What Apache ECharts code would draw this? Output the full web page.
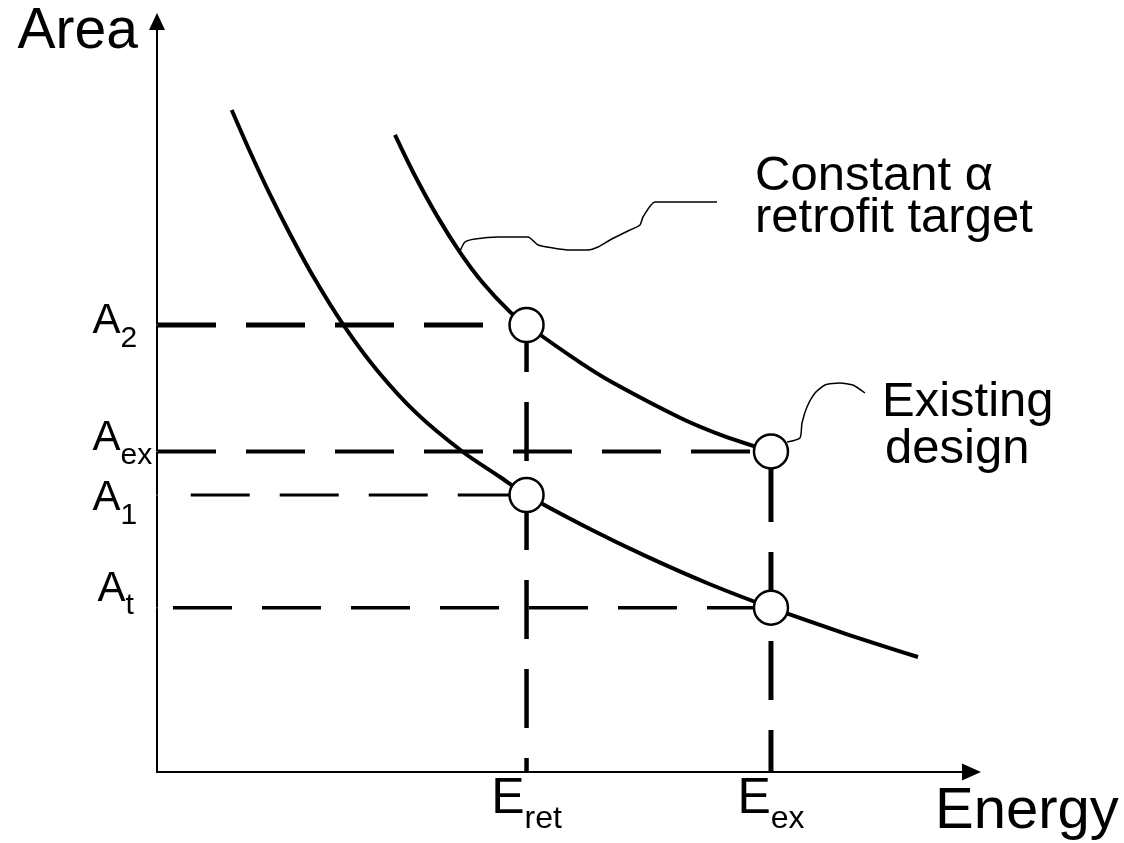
<!DOCTYPE html>
<html><head><meta charset="utf-8">
<script src="https://cdn.jsdelivr.net/npm/echarts@6/dist/echarts.min.js"></script>
<style>html,body{margin:0;padding:0;background:#fff}#main{width:1124px;height:843px}</style>
</head><body><div id="main"></div>
<script>
// ---- data (arbitrary units) ----
const existingCurve = [[9.17,88.21],[11.42,82.65],[13.87,76.96],[16.33,71.69],[19.15,66.09],[22.84,59.65],[27.01,53.54],[31.92,47.75],[37.57,42.64],[42.11,39.31],[45.37,36.91],[53.16,32.38],[60.16,28.70],[67.89,25.02],[75.38,21.89],[84.47,18.45],[93.43,15.32]];
const retrofitCurve = [[29.22,84.88],[31.43,79.95],[34.38,74.10],[37.20,69.25],[40.02,65.16],[43.34,61.31],[45.37,59.56],[51.93,54.58],[55.99,51.86],[64.21,47.21],[69.12,44.97],[75.38,42.71]];
const energyTicks = [45.37, 75.38];
const energyTickNames = [['E','ret'],['E','ex']];
const areaTicks = [59.56, 42.71, 36.91, 21.89];
const areaTickNames = [['A','2'],['A','ex'],['A','1'],['A','t']];
const areaGuideStart = [0, 0, 4.14, 1.96];
const areaGuideEnd = [45.37, 75.38, 45.37, 75.38];
const energyGuideTop = [59.56, 42.71];
const designPoints = [[45.37,59.56],[75.38,42.71],[45.37,36.91],[75.38,21.89]];
const leaderRetrofit = [[37.20,69.40],[37.81,70.62],[39.04,71.02],[41.87,71.29],[45.55,71.29],[46.78,70.22],[48.62,69.82],[50.71,69.55],[52.92,69.55],[54.14,69.95],[55.62,70.89],[58.07,72.22],[59.30,72.88],[59.67,73.95],[61.14,75.95],[68.75,75.95]];
const leaderExisting = [[77.35,43.97],[78.94,44.50],[79.19,46.50],[79.80,48.63],[80.79,50.50],[82.01,51.57],[83.86,51.83],[85.45,51.57],[86.92,50.50]];
const axisNames = ['Energy', 'Area'];
const noteRetrofit = ['Constant α', 'retrofit target'];
const noteExisting = ['Existing', 'design'];

// ---- styles ----
const F = 'Liberation Sans, Arial, Helvetica, sans-serif';
const K = '#000';
const dash = [59, 30];
const areaGuideWidth = [5, 4, 3, 3.5];
const energyGuideWidth = [4.5, 5];
const energyGuideOffset = [12, 77.5];
const areaLabelNudge = [[-64, 2.5], [-64, -7], [-64, 9.5], [-59, -12.5]];

const chart = echarts.init(document.getElementById('main'), null, {renderer: 'canvas'});
const series = [];
areaTicks.forEach((v, i) => {
  series.push({type:'line', silent:true, symbol:'none', z:2,
    data:[[areaGuideStart[i], v], [areaGuideEnd[i], v]],
    lineStyle:{color:K, width:areaGuideWidth[i], type:dash, dashOffset:0}});
});
energyTicks.forEach((v, i) => {
  series.push({type:'line', silent:true, symbol:'none', z:2,
    data:[[v, energyGuideTop[i]], [v, 0]],
    lineStyle:{color:K, width:energyGuideWidth[i], type:dash, dashOffset:energyGuideOffset[i]}});
});
[existingCurve, retrofitCurve].forEach(c => {
  series.push({type:'line', silent:true, symbol:'none', smooth:0.3, z:3, data:c,
    lineStyle:{color:K, width:4}});
});
[leaderRetrofit, leaderExisting].forEach(c => {
  series.push({type:'line', silent:true, symbol:'none', smooth:0.2, z:3, data:c,
    lineStyle:{color:K, width:1.5}});
});
series.push({type:'scatter', silent:true, z:5, data:designPoints, symbol:'circle', symbolSize:34,
  itemStyle:{color:'#fff', borderColor:K, borderWidth:2.5, opacity:1}});
series.push({type:'scatter', silent:true, z:6, symbolSize:1, itemStyle:{color:'#fff', opacity:1},
  data: areaTicks.map((v, i) => ({value:[0, v], label:{offset:areaLabelNudge[i]}})),
  label:{show:true, position:[0, 0], align:'left', verticalAlign:'middle', color:K, opacity:1, textBorderWidth:0,
    formatter: p => '{a|' + areaTickNames[p.dataIndex][0] + '}{s|' + areaTickNames[p.dataIndex][1] + '}',
    rich:{a:{fontSize:42, fontFamily:F, color:K, verticalAlign:'top', textBorderWidth:0},
          s:{fontSize:30, fontFamily:F, color:K, verticalAlign:'top', padding:[23,0,0,0], textBorderWidth:0}}}});

chart.setOption({
  animation:false,
  backgroundColor:'#fff',
  grid:{left:157, right:152.5, top:21.5, bottom:71, containLabel:false},
  xAxis:{type:'value', min:0, max:100, splitLine:{show:false}, axisTick:{show:false},
    name:axisNames[0], nameLocation:'end', nameGap:-36.5,
    nameTextStyle:{fontSize:58, fontFamily:F, color:K, align:'left', verticalAlign:'top', padding:[11,0,0,0]},
    axisLine:{lineStyle:{color:K, width:2}, symbol:['none','triangle'], symbolSize:[17,19]},
    axisLabel:{show:true, customValues:energyTicks, margin:2, verticalAlign:'top', align:'center',
      formatter: v => { const i = energyTicks.indexOf(v); return '{e|' + energyTickNames[i][0] + '}{s|' + energyTickNames[i][1] + '}'; },
      rich:{e:{fontSize:50, fontFamily:F, color:K, verticalAlign:'top'},
            s:{fontSize:32, fontFamily:F, color:K, verticalAlign:'top', padding:[29,0,0,0]}}}},
  yAxis:{type:'value', min:0, max:100, splitLine:{show:false}, axisTick:{show:false}, axisLabel:{show:false},
    name:axisNames[1], nameLocation:'end', nameGap:-39,
    nameTextStyle:{fontSize:57, fontFamily:F, color:K, align:'right', verticalAlign:'bottom', padding:[0,19,0,0]},
    axisLine:{lineStyle:{color:K, width:2}, symbol:['none','triangle'], symbolSize:[16,17]}},
  graphic:[
    {type:'text', x:755, y:152, silent:true, style:{text:noteRetrofit[0], fontSize:49, fontFamily:F, fill:K, verticalAlign:'top'}},
    {type:'text', x:755, y:194, silent:true, style:{text:noteRetrofit[1], fontSize:49, fontFamily:F, fill:K, verticalAlign:'top'}},
    {type:'text', x:882, y:378, silent:true, style:{text:noteExisting[0], fontSize:49, fontFamily:F, fill:K, verticalAlign:'top'}},
    {type:'text', x:885, y:425, silent:true, style:{text:noteExisting[1], fontSize:49, fontFamily:F, fill:K, verticalAlign:'top'}}
  ],
  series
});
</script></body></html>
